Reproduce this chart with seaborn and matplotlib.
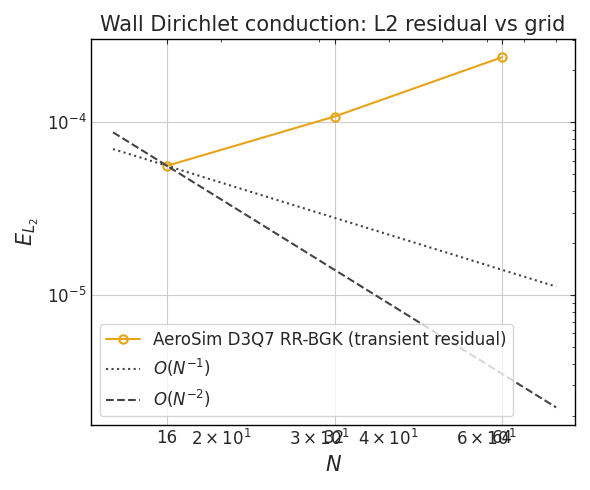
import numpy as np
import matplotlib
matplotlib.use("Agg")
import matplotlib.pyplot as plt
import seaborn as sns

grid_n = [16, 32, 64]
residual = [5.6e-5, 1.08e-4, 2.38e-4]
ref_n = [12.8, 80.0]

sns.set_style("whitegrid", {"axes.edgecolor": "black", "grid.color": "#cccccc"})
plt.rcParams["font.family"] = ["DejaVu Sans"]

fig, ax = plt.subplots(figsize=(5.9, 4.9), dpi=100)

sns.lineplot(x=grid_n, y=residual, ax=ax, color="#e8a317", marker="o",
             markerfacecolor="none", markeredgecolor="#e8a317", markeredgewidth=1.5,
             markersize=6, label="AeroSim D3Q7 RR-BGK (transient residual)")

ref = np.array(ref_n)
ax.plot(ref, residual[0] * (grid_n[0] / ref), ":", color="#444444", lw=1.5,
        label=r"$O(N^{-1})$")
ax.plot(ref, residual[0] * (grid_n[0] / ref) ** 2, "--", color="#444444", lw=1.5,
        label=r"$O(N^{-2})$")

ax.set_xscale("log")
ax.set_yscale("log")
ax.set_xlim(11.7, 86.5)
ax.set_ylim(1.78e-6, 3.02e-4)
ax.set_xticks(grid_n)
ax.set_xticklabels([str(n) for n in grid_n])
ax.tick_params(which="both", direction="in", top=True, right=True, labelsize=12)
ax.grid(True, which="major")
ax.grid(False, which="minor")
for s in ax.spines.values():
    s.set_linewidth(1.0)

ax.set_xlabel(r"$N$", fontsize=15)
ax.set_ylabel(r"$E_{L_2}$", fontsize=15)
ax.set_title("Wall Dirichlet conduction: L2 residual vs grid", fontsize=15)
ax.legend(loc="lower left", fontsize=12, frameon=True)

fig.tight_layout()
fig.savefig("out.png")
